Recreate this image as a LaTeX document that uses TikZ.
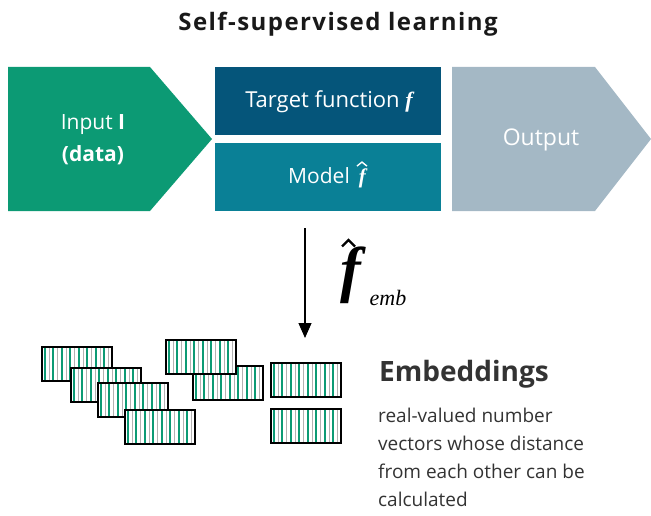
\documentclass[tikz,border=0pt]{standalone}
\usepackage{fontspec}
\setmainfont{Open Sans}
\setsansfont{Open Sans}
\newfontfamily\fserif{Liberation Serif}
\usetikzlibrary{arrows.meta}
\definecolor{ingreen}{HTML}{0C9A74}
\definecolor{tgtblue}{HTML}{05557A}
\definecolor{mdlteal}{HTML}{0A8096}
\definecolor{outgrey}{HTML}{A4B8C5}
\definecolor{txtgrey}{HTML}{333333}
\newcommand\bif{{\fserif\bfseries\itshape f}}
\tikzset{
  boxtext/.style={text=white, inner sep=0pt, font=\fontsize{21}{24}\selectfont},
  hatline/.style={line join=miter, line cap=butt},
  vecbox/.style={draw=black, line width=1.6pt, fill=white, inner sep=0pt,
    minimum width=70pt, minimum height=34pt, anchor=north west,
    path picture={
      \foreach \k in {0,...,7}{
        \draw[ingreen, line width=1.7pt]
          ([xshift=3pt+\k*8.5pt]path picture bounding box.south west) --
          ([xshift=3pt+\k*8.5pt]path picture bounding box.north west);
        \draw[gray!60, line width=0.5pt]
          ([xshift=7.2pt+\k*8.5pt]path picture bounding box.south west) --
          ([xshift=7.2pt+\k*8.5pt]path picture bounding box.north west);
      }}},
}
\begin{document}
\begin{tikzpicture}[x=1pt, y=-1pt]
\useasboundingbox (0,0) rectangle (651,516);

% title
\node[font=\bfseries\fontsize{24}{28}\selectfont\addfontfeature{LetterSpace=6}, text=black!90] (title) at (338,24) {Self-supervised learning};

% process chevrons and boxes
\fill[ingreen] (8,67) -- (150,67) -- (212,139) -- (150,211) -- (8,211) -- cycle;
\fill[tgtblue] (215,67) rectangle (441,135);
\fill[mdlteal] (215,143) rectangle (441,211);
\fill[outgrey] (452,67) -- (595,67) -- (651,139) -- (595,211) -- (452,211) -- cycle;

\node[boxtext] (input) at (93,125) {Input \textbf{I}};
\node[boxtext, font=\bfseries\fontsize{21}{24}\selectfont] (data) at (93,155) {(data)};
\node[boxtext, font=\fontsize{22}{25}\selectfont] (target) at (329,102) {Target function \bif};
\node[boxtext, anchor=west] (model) at (288,178) {Model\, \bif};
\draw[white, hatline, line width=1.4pt]
  ([xshift=-9pt,yshift=1.5pt]model.north east) -- ([xshift=-4pt,yshift=5.5pt]model.north east)
  -- ([xshift=1pt,yshift=1.5pt]model.north east);
\node[boxtext, font=\fontsize{23}{26}\selectfont] (output) at (541,140) {Output};

% embedding arrow
\coordinate (astart) at (305,228);
\coordinate (aend) at (305,338);
\draw[line width=1.2pt, -{Triangle[length=15pt,width=13pt]}] (astart) -- (aend);
\node[inner sep=0pt, font=\fserif\bfseries\itshape\fontsize{62}{64}\selectfont] (fbig) at (351,275) {f};
\draw[hatline, line width=2.2pt] (342,246.5) -- (348.5,240) -- (355,246.5);
\node[inner sep=0pt, font=\fserif\itshape\fontsize{22}{24}\selectfont] (emb) at (388,298) {emb};

% embedding vectors
\node[vecbox] (v1) at (41,346) {};
\node[vecbox] (v2) at (70,367) {};
\node[vecbox] (v3) at (97,382) {};
\node[vecbox] (v4) at (124,409) {};
\node[vecbox] (v6) at (192,365) {};
\node[vecbox] (v5) at (165,339) {};
\node[vecbox] (v7) at (270,362) {};
\node[vecbox] (v8) at (270,408) {};

% caption
\node[anchor=west, inner sep=0pt, text=txtgrey, font=\bfseries\fontsize{28}{32}\selectfont] (embt) at (379,374) {Embeddings};
\node[anchor=north west, inner sep=0pt, text=txtgrey, align=left,
      font=\fontsize{19}{28}\selectfont] (embd) at (378,408)
  {real-valued number\\vectors whose distance\\from each other can be\\calculated};
\end{tikzpicture}
\end{document}
